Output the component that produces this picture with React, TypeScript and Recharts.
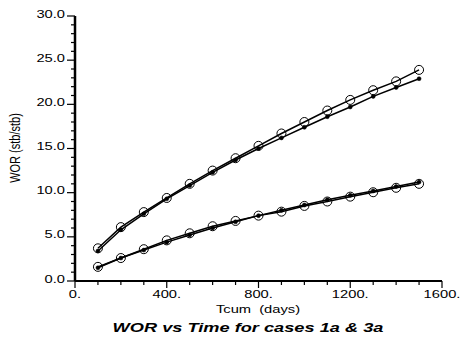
import React from 'react';
import { LineChart, Line, XAxis, YAxis } from 'recharts';

// time points (days)
const tcum = [100, 200, 300, 400, 500, 600, 700, 800, 900, 1000, 1100, 1200, 1300, 1400, 1500];

// upper pair
const upperOpen = [3.7, 6.1, 7.8, 9.4, 11.0, 12.5, 13.9, 15.3, 16.7, 18.0, 19.3, 20.5, 21.6, 22.6, 23.9];
const upperDot = [3.4, 5.8, 7.6, 9.3, 10.8, 12.3, 13.7, 15.0, 16.2, 17.4, 18.6, 19.7, 20.9, 21.9, 22.9];

// lower pair
const lowerOpen = [1.6, 2.6, 3.6, 4.6, 5.4, 6.2, 6.8, 7.4, 7.85, 8.5, 9.0, 9.55, 10.05, 10.55, 11.0];
const lowerDot = [1.5, 2.6, 3.5, 4.4, 5.2, 6.0, 6.7, 7.4, 8.0, 8.6, 9.2, 9.7, 10.2, 10.7, 11.2];

const xTicks = Array.from({ length: 17 }, (_, i) => i * 100);
const yTicks = Array.from({ length: 31 }, (_, i) => i);

const data = tcum.map((t, i) => ({
  t,
  a: upperOpen[i],
  b: upperDot[i],
  c: lowerOpen[i],
  d: lowerDot[i],
}));

const FONT = '"Liberation Sans", Arial, sans-serif';

const XTick = ({ x, y, payload }: any) => {
  const major = payload.value % 400 === 0;
  return (
    <g>
      <line x1={x} y1={y} x2={x} y2={y + (major ? 7 : 4)} stroke="#000" strokeWidth={1.2} />
      {major && (
        <text
          transform={`translate(${x},${y + 16.5}) scale(1.4,1)`}
          textAnchor="middle"
          fontSize={10.5}
          fontFamily={FONT}
          fill="#000"
        >
          {`${payload.value}.`}
        </text>
      )}
    </g>
  );
};

const YTick = ({ x, y, payload }: any) => {
  const major = payload.value % 5 === 0;
  return (
    <g>
      <line x1={x - (major ? 8 : 4)} y1={y} x2={x} y2={y} stroke="#000" strokeWidth={1.2} />
      {major && (
        <text
          transform={`translate(${x - 10},${y + 1.5}) scale(1.4,1)`}
          textAnchor="end"
          fontSize={10.5}
          fontFamily={FONT}
          fill="#000"
        >
          {Number(payload.value).toFixed(1)}
        </text>
      )}
    </g>
  );
};

const openDot = { r: 4.5, fill: 'none', stroke: '#000', strokeWidth: 1 };
const filledDot = { r: 2, fill: '#000', stroke: '#000', strokeWidth: 0.5 };

export default function App() {
  return (
    <div style={{ position: 'absolute', left: 0, top: 0, width: 460, height: 344, background: '#fff' }}>
      <LineChart width={460} height={344} data={data} margin={{ top: 16, right: 18, bottom: 33, left: 15 }}>
        <XAxis
          dataKey="t"
          type="number"
          domain={[0, 1600]}
          ticks={xTicks}
          interval={0}
          height={30}
          tickLine={false}
          tickSize={0}
          tickMargin={0}
          tick={<XTick />}
          axisLine={{ stroke: '#000', strokeWidth: 2 }}
        />
        <YAxis
          type="number"
          domain={[0, 30]}
          ticks={yTicks}
          interval={0}
          width={60}
          tickLine={false}
          tickSize={0}
          tickMargin={0}
          tick={<YTick />}
          axisLine={{ stroke: '#000', strokeWidth: 2.5 }}
        />
        <Line dataKey="a" stroke="#000" strokeWidth={1.5} dot={openDot} activeDot={false} isAnimationActive={false} />
        <Line dataKey="b" stroke="#000" strokeWidth={1.5} dot={filledDot} activeDot={false} isAnimationActive={false} />
        <Line dataKey="c" stroke="#000" strokeWidth={1.5} dot={openDot} activeDot={false} isAnimationActive={false} />
        <Line dataKey="d" stroke="#000" strokeWidth={1.5} dot={filledDot} activeDot={false} isAnimationActive={false} />
      </LineChart>

      <div
        style={{
          position: 'absolute',
          left: 15,
          top: 147.5,
          fontFamily: FONT,
          fontSize: 11,
          lineHeight: '11px',
          whiteSpace: 'pre',
          transform: 'translate(-50%,-50%) scale(1.4,1) rotate(-90deg)',
        }}
      >
        WOR (stb/stb)
      </div>
      <div
        style={{
          position: 'absolute',
          left: 258,
          top: 304,
          fontFamily: FONT,
          fontSize: 10.5,
          lineHeight: '10.5px',
          whiteSpace: 'pre',
          transform: 'translateX(-50%) scale(1.4,1)',
        }}
      >
        {'Tcum  (days)'}
      </div>
      <div
        style={{
          position: 'absolute',
          left: 248,
          top: 321,
          fontFamily: FONT,
          fontSize: 13,
          fontWeight: 'bold',
          fontStyle: 'italic',
          lineHeight: '13px',
          whiteSpace: 'pre',
          transform: 'translateX(-50%) scale(1.4,1)',
        }}
      >
        WOR vs Time for cases 1a &amp; 3a
      </div>
    </div>
  );
}
